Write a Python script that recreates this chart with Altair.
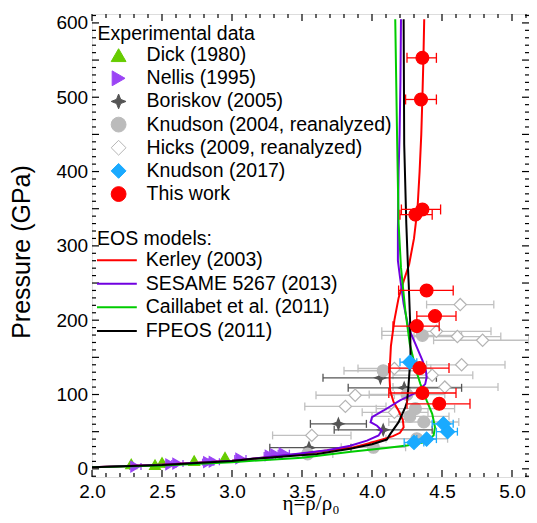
import altair as alt
import pandas as pd

FONT = "Liberation Sans"
SERIF = "Liberation Serif"

# ---------------- experimental data (eta = rho/rho0, P in GPa, error-bar ends) ----------------
DICK_ETA = [2.28, 2.45, 2.50, 2.73, 2.95]
DICK_P = [6.5, 5.5, 8.5, 11.0, 15.5]

NELLIS_ETA = [2.31, 2.56, 2.61, 2.83, 2.87, 3.06, 3.27, 3.31, 3.37]
NELLIS_P = [3.0, 6.0, 7.0, 9.0, 9.5, 14.0, 18.0, 19.5, 21.0]
NELLIS_LO = [2.27, 2.52, 2.57, 2.79, 2.83, 3.02, 3.23, 3.27, 3.33]
NELLIS_HI = [2.35, 2.60, 2.65, 2.87, 2.91, 3.10, 3.31, 3.35, 3.41]

BORISKOV_ETA = [4.06, 4.23, 3.76, 4.08, 3.55]
BORISKOV_P = [122.5, 109.0, 60.5, 52.5, 28.5]
BORISKOV_LO = [3.65, 3.83, 3.56, 3.73, 3.27]
BORISKOV_HI = [4.46, 4.64, 3.96, 4.43, 3.85]

KNUD04_ETA = [4.36, 4.08, 4.31, 4.27, 4.37, 4.32, 4.01, 3.54, 4.25]
KNUD04_P = [179.5, 132.0, 81.0, 70.5, 63.0, 40.5, 29.0, 20.0, 100.0]
KNUD04_LO = [4.07, 3.80, 4.03, 4.00, 4.12, 4.10, 3.78, 3.36, 3.98]
KNUD04_HI = [4.64, 4.36, 4.59, 4.55, 4.62, 4.54, 4.24, 3.72, 4.52]

HICKS_ETA = [4.63, 4.46, 4.61, 4.79, 4.64, 4.16, 4.43, 4.52, 3.88, 3.81, 3.57, 4.16]
HICKS_P = [221, 185, 178, 173, 140, 135, 126, 110, 99, 84, 45, 76]
HICKS_LO = [4.39, 4.07, 4.30, 4.44, 4.39, 3.90, 4.15, 4.15, 3.60, 3.52, 3.29, 3.93]
HICKS_HI = [4.87, 4.85, 4.92, 5.12, 4.95, 4.42, 4.72, 4.90, 4.16, 4.10, 3.85, 4.40]

KNUD17_ETA = [4.30, 4.39, 4.51, 4.54, 4.27]
KNUD17_P = [35.5, 40.0, 60.5, 50.0, 143.5]
KNUD17_LO = [4.23, 4.32, 4.43, 4.46, 4.20]
KNUD17_HI = [4.37, 4.46, 4.58, 4.61, 4.32]

THIS_ETA = [4.36, 4.35, 4.36, 4.31, 4.39, 4.45, 4.32, 4.34, 4.36, 4.48]
THIS_P = [553, 497, 349, 342, 240, 205.5, 192, 135.5, 102, 87.5]
THIS_LO = [4.25, 4.24, 4.21, 4.20, 4.19, 4.32, 4.15, 4.12, 4.12, 4.25]
THIS_HI = [4.46, 4.46, 4.49, 4.43, 4.58, 4.60, 4.48, 4.55, 4.60, 4.70]

# ---------------- EOS model curves ----------------
KERLEY_ETA = [2.0, 2.5, 3.0, 3.2, 3.44, 3.68, 3.85, 3.96, 4.08, 4.15, 4.20, 4.226, 4.22, 4.185,
              4.154, 4.13, 4.126, 4.128, 4.135, 4.16, 4.19, 4.23, 4.265, 4.30, 4.325, 4.34,
              4.352, 4.36, 4.367, 4.373]
KERLEY_P = [2, 5.5, 11, 14.5, 19, 24.5, 28, 33.5, 40, 44, 48.5, 56, 66, 80,
            90, 105, 120, 140, 165, 200, 230, 255, 275, 310, 350, 400,
            450, 500, 550, 605]

SESAME_ETA = [2.0, 2.5, 3.0, 3.44, 3.68, 3.845, 3.964, 4.047, 4.07, 4.036, 3.99, 4.0, 4.083,
              4.20, 4.32, 4.38, 4.39, 4.385, 4.36, 4.31, 4.26, 4.226, 4.20, 4.185, 4.185,
              4.19, 4.197, 4.203, 4.207]
SESAME_P = [2, 5.5, 11, 19.5, 25, 31, 38, 44.8, 51.6, 58, 62.8, 69.5, 78.5,
            92, 103, 114, 123, 132, 146, 168, 190, 222, 258, 280, 320,
            400, 450, 520, 605]

CAILLABET_ETA = [2.0, 2.5, 3.0, 3.5, 3.85, 4.1, 4.25, 4.37, 4.44, 4.45, 4.43, 4.39, 4.345,
                 4.316, 4.27, 4.238, 4.207, 4.19, 4.18, 4.166]
CAILLABET_P = [2, 4.5, 9, 15, 23, 28, 31.4, 35.8, 44.8, 56, 74, 92, 114.5,
               132, 168, 213, 271, 330, 437, 605]

FPEOS_ETA = [2.0, 2.5, 3.0, 3.15, 3.37, 3.607, 3.845, 4.0, 4.106, 4.131, 4.19, 4.238, 4.25,
             4.26, 4.27, 4.275, 4.272, 4.262, 4.257, 4.245, 4.23, 4.226]
FPEOS_P = [2, 5, 10.5, 13.5, 16.6, 20, 27, 33, 39.4, 47, 62.8, 83, 89.7,
           110, 137, 155, 200, 250, 271, 330, 437, 605]

SERIES = ["Dick (1980)", "Nellis (1995)", "Boriskov (2005)", "Knudson (2004, reanalyzed)",
          "Hicks (2009, reanalyzed)", "Knudson (2017)", "This work"]
MODELS = ["Kerley (2003)", "SESAME 5267 (2013)", "Caillabet et al. (2011)", "FPEOS (2011)"]

X_LABELS = [2.0, 2.5, 3.0, 3.5, 4.0, 4.5, 5.0]
X_MINOR = [round(2.0 + 0.1 * k, 1) for k in range(32) if k % 5 != 0]
Y_LABELS = [0, 100, 200, 300, 400, 500, 600]
Y_MID = [50, 150, 250, 350, 450, 550]
Y_MINOR = [v for v in range(-10, 611, 10) if v % 50 != 0]

# ---------------- styles ----------------
FILL = ["#66cc00", "#9b44f5", "#555555", "#bbbbbb", "#ffffff", "#1aaaff", "#ff0000"]
STROKE = ["#66cc00", "#9b44f5", "#555555", "#bbbbbb", "#b4b4b4", "#1aaaff", "#ff0000"]
STAR = "M0,-1L0.28,-0.28L1,0L0.28,0.28L0,1L-0.28,0.28L-1,0L-0.28,-0.28Z"
SHAPES = ["triangle-up", "triangle-right", STAR, "circle", "diamond", "diamond", "circle"]
SIZES = [120, 110, 130, 140, 150, 200, 165]
MODEL_COLORS = ["#ff0000", "#7000e0", "#00cc00", "#000000"]

W, H = 437, 463
XS = alt.Scale(domain=[2.0, 2.0 + W / 140.0], nice=False, zero=False)
YS = alt.Scale(domain=[-11, 612], nice=False, zero=False)

XAXIS = alt.Axis(values=X_LABELS, format=".1f", labelFont=FONT, labelFontSize=19,
                 labelColor="black", labelPadding=5.5, ticks=False, tickSize=0, domain=False,
                 grid=False, labelFlush=False, labelOverlap=False,
                 title="η=ρ/ρ₀", titleFont=SERIF, titleFontSize=21, titleFontWeight="normal",
                 titleColor="black", titleY=32.5, titleBaseline="alphabetic")
YAXIS = alt.Axis(values=Y_LABELS, format="d", labelFont=FONT, labelFontSize=19,
                 labelColor="black", labelPadding=4.4, ticks=False, tickSize=0, domain=False,
                 grid=False, labelFlush=False, labelOverlap=False,
                 title="Pressure (GPa)", titleFont=FONT, titleFontSize=25,
                 titleFontWeight="normal", titleColor="black", titleAngle=270,
                 titleBaseline="alphabetic", titleX=-62.7, titleY=237.5)


def X(f):
    return alt.X(f, type="quantitative", scale=XS, axis=XAXIS)


def Y(f):
    return alt.Y(f, type="quantitative", scale=YS, axis=YAXIS)


def frame(series, eta, p, lo, hi):
    return pd.DataFrame({"series": series, "eta": eta, "P": p, "lo": lo, "hi": hi})


pts = pd.concat([
    frame(SERIES[0], DICK_ETA, DICK_P, DICK_ETA, DICK_ETA),
    frame(SERIES[1], NELLIS_ETA, NELLIS_P, NELLIS_LO, NELLIS_HI),
    frame(SERIES[2], BORISKOV_ETA, BORISKOV_P, BORISKOV_LO, BORISKOV_HI),
    frame(SERIES[3], KNUD04_ETA, KNUD04_P, KNUD04_LO, KNUD04_HI),
    frame(SERIES[4], HICKS_ETA, HICKS_P, HICKS_LO, HICKS_HI),
    frame(SERIES[5], KNUD17_ETA, KNUD17_P, KNUD17_LO, KNUD17_HI),
    frame(SERIES[6], THIS_ETA, THIS_P, THIS_LO, THIS_HI),
], ignore_index=True)

curves = []
for name, e, p in zip(MODELS, [KERLEY_ETA, SESAME_ETA, CAILLABET_ETA, FPEOS_ETA],
                      [KERLEY_P, SESAME_P, CAILLABET_P, FPEOS_P]):
    curves.append(pd.DataFrame({"model": name, "eta": e, "P": p, "i": list(range(len(e)))}))
curves = pd.concat(curves, ignore_index=True)

leg1 = alt.Legend(title="Experimental data", orient="none", legendX=5.6, legendY=10.9,
                  padding=0, titleFont=FONT, titleFontSize=19.5, titleFontWeight="normal",
                  titleColor="black", titlePadding=1, titleLimit=400,
                  labelFont=FONT, labelFontSize=19.5, labelColor="black", labelLimit=400,
                  rowPadding=2.15, symbolSize=220, symbolStrokeWidth=1, symbolOpacity=1,
                  symbolOffset=11.25, labelOffset=18.2, clipHeight=19.5)
leg2 = alt.Legend(title="EOS models:", orient="none", legendX=5.0, legendY=215.9,
                  padding=0, titleFont=FONT, titleFontSize=19.5, titleFontWeight="normal",
                  titleColor="black", titlePadding=1, titleLimit=400,
                  labelFont=FONT, labelFontSize=19.5, labelColor="black", labelLimit=400,
                  rowPadding=2.6, symbolType="stroke", symbolSize=1666, symbolStrokeWidth=2,
                  symbolOffset=-2.1, labelOffset=7.8, clipHeight=19.5)

FILL_ENC = alt.Fill("series:N", scale=alt.Scale(domain=SERIES, range=FILL), legend=leg1)
STROKE_ENC = alt.Stroke("series:N", scale=alt.Scale(domain=SERIES, range=STROKE), legend=leg1)
SHAPE_ENC = alt.Shape("series:N", scale=alt.Scale(domain=SERIES, range=SHAPES), legend=leg1)

base = alt.Chart(pts)


def points(k):
    return base.transform_filter(alt.datum.series == SERIES[k]).mark_point(
        filled=True, opacity=1, strokeWidth=1.2, size=SIZES[k]
    ).encode(x=X("eta"), y=Y("P"), fill=FILL_ENC, stroke=STROKE_ENC, shape=SHAPE_ENC)


def errbars(k, color, cap):
    d = base.transform_filter(alt.datum.series == SERIES[k])
    bar = d.mark_rule(color=color, strokeWidth=1.3).encode(x=X("lo"), x2=alt.X2("hi"), y=Y("P"))
    caps = d.transform_fold(["lo", "hi"], as_=["k", "xv"]).mark_tick(
        color=color, orient="vertical", size=cap, thickness=1.3, opacity=1
    ).encode(x=X("xv"), y=Y("P"))
    return [bar, caps]


def ticks_x(vals, y0, y1):
    return alt.Chart(pd.DataFrame({"t": vals})).mark_rule(color="black", strokeWidth=1.2).encode(
        x=X("t"), y=alt.value(y0), y2=alt.value(y1))


def ticks_y(vals, x0, x1):
    return alt.Chart(pd.DataFrame({"t": vals})).mark_rule(color="black", strokeWidth=1.2).encode(
        y=Y("t"), x=alt.value(x0), x2=alt.value(x1))


layers = [
    ticks_x(X_LABELS, H, H - 7), ticks_x(X_MINOR, H, H - 4),
    ticks_x(X_LABELS, 0, 7), ticks_x(X_MINOR, 0, 4),
    ticks_y(Y_LABELS + Y_MID, 0, 7), ticks_y(Y_MINOR, 0, 4),
    ticks_y(Y_LABELS + Y_MID, W, W - 7), ticks_y(Y_MINOR, W, W - 4),
]
layers += errbars(3, "#c0c0c0", 8)
layers += errbars(4, "#c0c0c0", 8)
layers += errbars(2, "#555555", 8)
layers += errbars(1, "#9b44f5", 7)
layers += [points(k) for k in range(5)]

lines = alt.Chart(curves).mark_line(strokeWidth=2, clip=True).encode(
    x=X("eta"), y=Y("P"),
    color=alt.Color("model:N", scale=alt.Scale(domain=MODELS, range=MODEL_COLORS), legend=leg2),
    order=alt.Order("i:Q"),
)
layers.append(lines)

layers += errbars(5, "#1aaaff", 8)
layers += errbars(6, "#ff0000", 10)
layers += [points(5), points(6)]

chart = alt.layer(*layers).properties(
    width=W, height=H,
    padding={"left": 84, "top": 6, "right": 0, "bottom": 38},
    autosize=alt.AutoSizeParams(type="none"),
).configure_view(stroke="black", strokeWidth=1.5).configure(background="white")

chart.save("out.html", embed_options={"renderer": "svg", "actions": False})
